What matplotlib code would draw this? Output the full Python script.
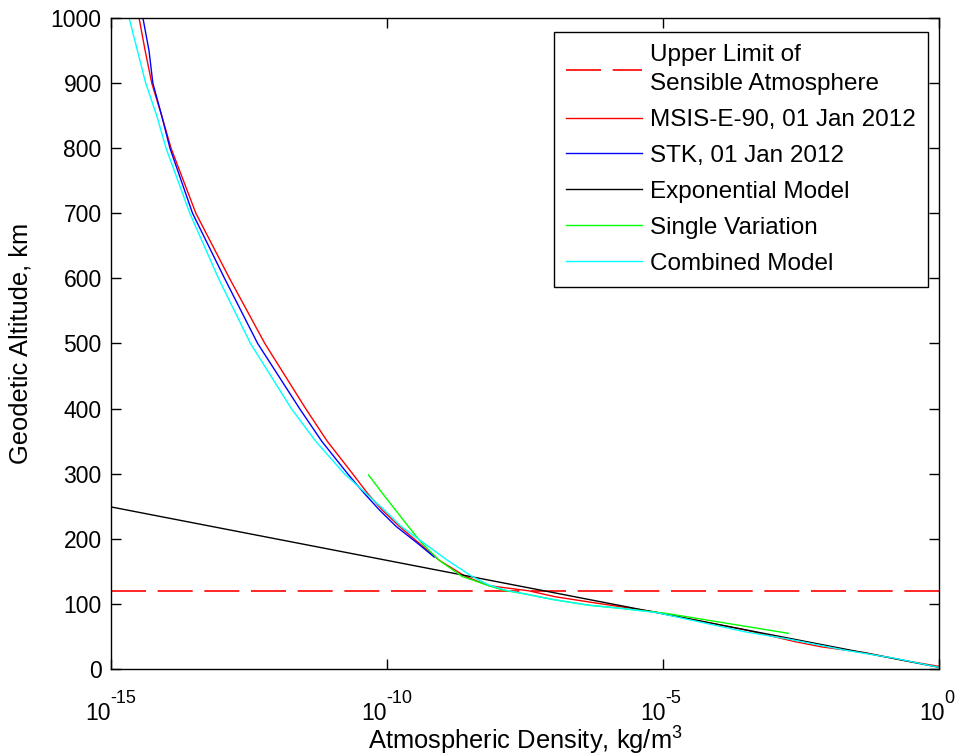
import matplotlib.pyplot as plt
from matplotlib.transforms import blended_transform_factory, offset_copy
import numpy as np

# ── fonts ──
plt.rcParams.update({
    "font.family": ["Liberation Sans", "DejaVu Sans"],
    "mathtext.fontset": "custom",
    "mathtext.rm": "Liberation Sans",
    "mathtext.it": "Liberation Sans:italic",
    "axes.unicode_minus": False,
})

# ── data: altitude (km) vs log10 density (kg/m^3) ──
msis_alt = [1000, 950, 900, 850, 800, 700, 600, 500, 400, 350, 300, 270, 244,
            219, 193, 167, 142, 128, 120, 111, 103, 96, 88, 60, 42, 34, 25,
            19, 12, 4]
msis_log = [-14.50, -14.39, -14.27, -14.09, -13.92, -13.47, -12.86, -12.22,
            -11.48, -11.09, -10.63, -10.36, -10.09, -9.78, -9.42, -9.06,
            -8.58, -8.16, -7.43, -6.96, -6.35, -5.80, -5.17, -3.51, -2.61,
            -2.13, -1.34, -0.98, -0.56, 0.0]

stk_alt = [1000, 950, 900, 850, 800, 700, 600, 500, 400, 350, 300, 270, 244,
           219, 193, 172]
stk_log = [-14.43, -14.32, -14.25, -14.09, -13.94, -13.53, -12.95, -12.35,
           -11.59, -11.19, -10.72, -10.42, -10.14, -9.84, -9.45, -9.15]

expo_alt = [248.8, 2.6]
expo_log = [-15.0, 0.0]

single_alt = [298, 270, 244, 219, 193, 167, 142, 128, 121, 116, 106, 98, 93,
              85.6, 54.8]
single_log = [-10.34, -10.09, -9.85, -9.62, -9.37, -9.06, -8.64, -8.16, -7.90,
              -7.55, -6.95, -6.35, -5.75, -4.96, -2.73]

comb_alt = [1000, 950, 900, 850, 800, 700, 600, 500, 400, 350, 300, 270, 244,
            219, 193, 167, 142, 129, 121, 116, 106, 98, 93, 86.5, 57, 46, 29,
            16.4, 2.6]
comb_log = [-14.68, -14.53, -14.38, -14.18, -14.01, -13.58, -13.06, -12.48,
            -11.74, -11.30, -10.78, -10.39, -10.05, -9.75, -9.33, -8.91,
            -8.46, -8.16, -7.85, -7.55, -6.95, -6.35, -5.75, -5.11, -3.51,
            -2.73, -1.71, -0.80, 0.0]

upper_limit_km = 120

xtick_exps = [-15, -10, -5, 0]
ytick_vals = list(range(0, 1001, 100))

# ── plot ──
fig = plt.figure(figsize=(9.56, 7.56), dpi=100)
ax = fig.add_axes([0.1166, 0.1151, 0.8656, 0.8611])

ax.plot([1e-15, 1e0], [upper_limit_km, upper_limit_km], color="#FF0000",
        lw=1.2, dashes=(21, 7), label="Upper Limit of\nSensible Atmosphere")
ax.plot(10 ** np.array(msis_log), msis_alt, color="#FF0000", lw=1.0,
        label="MSIS-E-90, 01 Jan 2012")
ax.plot(10 ** np.array(stk_log), stk_alt, color="#0000FF", lw=1.0,
        label="STK, 01 Jan 2012")
ax.plot(10 ** np.array(expo_log), expo_alt, color="#000000", lw=1.0,
        label="Exponential Model")
ax.plot(10 ** np.array(single_log), single_alt, color="#00FF00", lw=1.0,
        label="Single Variation")
ax.plot(10 ** np.array(comb_log), comb_alt, color="#00FFFF", lw=1.0,
        label="Combined Model")

ax.set_xscale("log")
ax.set_xlim(1e-15, 1e0)
ax.set_ylim(0, 1000)
ax.set_xticks([10.0 ** e for e in xtick_exps])
ax.set_xticklabels([])
ax.xaxis.set_minor_locator(plt.NullLocator())
ax.set_yticks(ytick_vals)

ax.tick_params(axis="both", which="major", direction="in", length=7,
               width=1.0, top=True, right=True, labelsize=16.5, colors="black")
ax.tick_params(axis="y", pad=7)
for sp in ax.spines.values():
    sp.set_linewidth(1.0)
    sp.set_color("black")

# x tick labels: "10" with a raised exponent, centred under each tick
trans = blended_transform_factory(ax.transData, ax.transAxes)
for e in xtick_exps:
    s = str(e)
    split = 9 - 3.3 * len(s)           # shift so base+exponent sit centred
    ax.text(10.0 ** e, 0, "10", fontsize=16.5, ha="right", va="baseline",
            transform=offset_copy(trans, fig=fig, x=split, y=-51, units="dots"),
            clip_on=False)
    ax.text(10.0 ** e, 0, s, fontsize=13, ha="left", va="baseline",
            transform=offset_copy(trans, fig=fig, x=split, y=-34, units="dots"),
            clip_on=False)

ax.set_xlabel("Atmospheric Density, kg/m$^3$", fontsize=18.4)
ax.xaxis.set_label_coords(0.5, -0.086)
ax.set_ylabel("Geodetic Altitude, km", fontsize=18.4)
ax.yaxis.set_label_coords(-0.096, 0.5)

leg = ax.legend(loc="upper right", bbox_to_anchor=(0.987, 0.978),
                borderaxespad=0, fontsize=17.5, frameon=True, fancybox=False,
                framealpha=1, edgecolor="black", handlelength=3.13,
                handletextpad=0.33, labelspacing=0.57, borderpad=0.5)
leg.get_frame().set_linewidth(1.0)
leg.get_texts()[0].set_linespacing(1.4)

fig.savefig("out.png", dpi=100)
